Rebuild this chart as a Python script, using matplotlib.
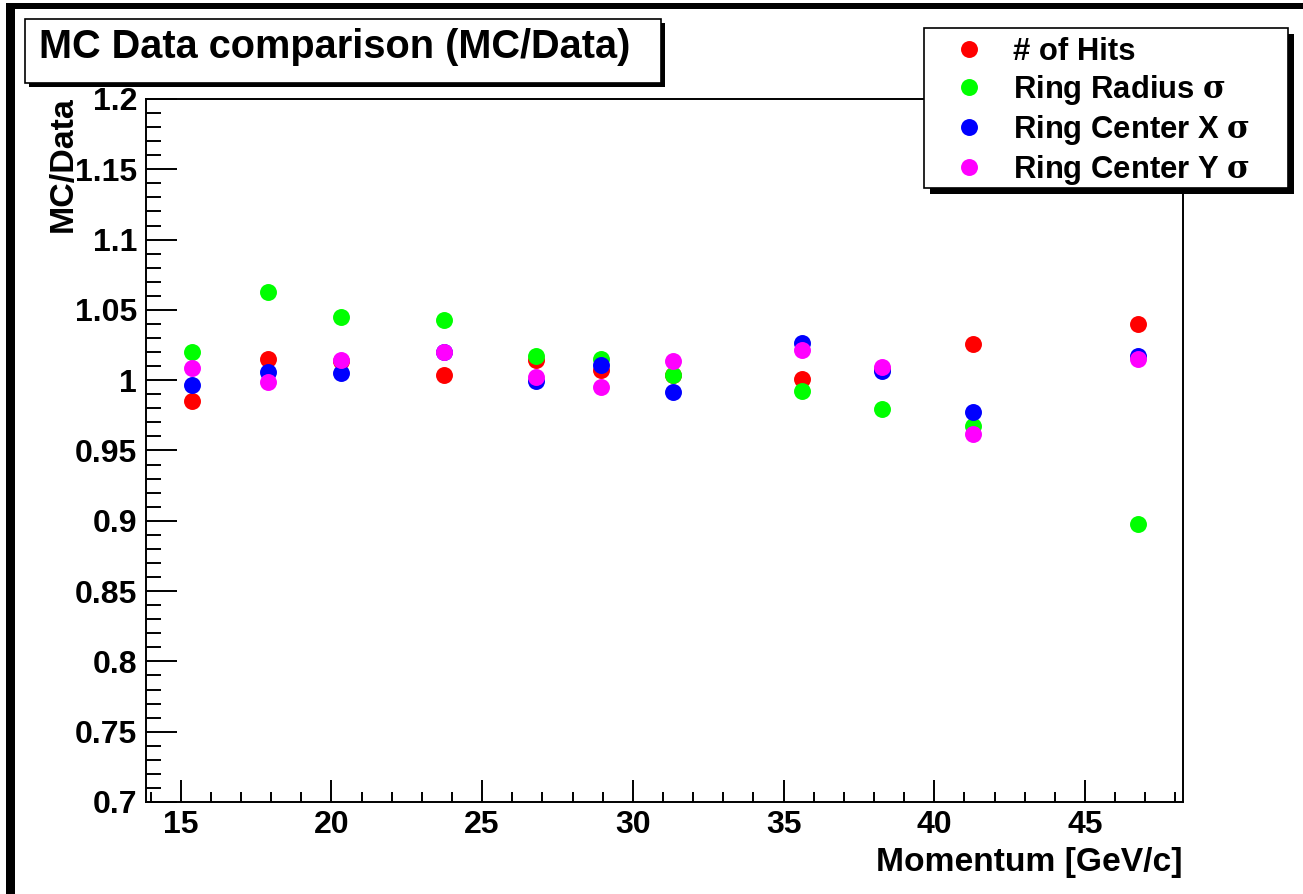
import matplotlib
matplotlib.use("Agg")
import matplotlib.pyplot as plt
from matplotlib.patches import Rectangle
from matplotlib.ticker import MultipleLocator, FormatStrFormatter

plt.rcParams['font.family'] = ['Liberation Sans', 'DejaVu Sans']
plt.rcParams['font.weight'] = 'bold'
plt.rcParams['mathtext.fontset'] = 'custom'
plt.rcParams['mathtext.rm'] = 'DejaVu Serif'
plt.rcParams['mathtext.it'] = 'DejaVu Serif'

# Beam momentum points [GeV/c]
momentum = [15.36, 17.91, 20.33, 23.74, 26.79, 28.94, 31.32, 35.60, 38.28, 41.29, 46.75]

# MC/Data ratios
n_hits = [0.985, 1.015, 1.014, 1.004, 1.0145, 1.007, 1.0035, 1.001, 1.008, 1.0255, 1.040]
ring_radius_sigma = [1.020, 1.063, 1.045, 1.043, 1.0174, 1.015, 1.0035, 0.9926, 0.9795, 0.9677, 0.8977]
ring_center_x_sigma = [0.9966, 1.006, 1.0049, 1.020, 0.9997, 1.0108, 0.9914, 1.0262, 1.0068, 0.9771, 1.0172]
ring_center_y_sigma = [1.0089, 0.999, 1.0144, 1.0203, 1.0025, 0.9954, 1.0139, 1.0215, 1.0092, 0.9617, 1.0149]

series_labels = ["# of Hits", r"Ring Radius $\sigma$", r"Ring Center X $\sigma$", r"Ring Center Y $\sigma$"]
series_colors = ["#ff0000", "#00ff00", "#0000ff", "#ff00ff"]

title_text = "MC Data comparison (MC/Data)"
x_label = "Momentum [GeV/c]"
y_label = "MC/Data"

W, H = 1303, 894
fig = plt.figure(figsize=(W / 100, H / 100), dpi=100)
fig.patch.set_facecolor("white")


def fx(px):
    return px / W


def fy(py):
    return 1 - py / H


ax = fig.add_axes([fx(146), fy(802), fx(1183) - fx(146), fy(99) - fy(802)])

for vals, lab, col in zip([n_hits, ring_radius_sigma, ring_center_x_sigma, ring_center_y_sigma],
                          series_labels, series_colors):
    ax.plot(momentum, vals, linestyle="none", marker="o", markersize=12.2,
            markerfacecolor=col, markeredgecolor=col, markeredgewidth=0, label=lab)

ax.set_xlim(13.85, 48.25)
ax.set_ylim(0.7, 1.2)

ax.xaxis.set_major_locator(MultipleLocator(5))
ax.xaxis.set_minor_locator(MultipleLocator(1))
ax.yaxis.set_major_locator(MultipleLocator(0.05))
ax.yaxis.set_minor_locator(MultipleLocator(0.01))
ax.xaxis.set_major_formatter(FormatStrFormatter("%g"))
ax.yaxis.set_major_formatter(FormatStrFormatter("%g"))

for sp in ax.spines.values():
    sp.set_linewidth(1.4)
    sp.set_color("black")

ax.tick_params(axis="x", which="major", direction="in", length=15.8, width=1.4,
               labelsize=23, pad=6, top=False)
ax.tick_params(axis="x", which="minor", direction="in", length=7.2, width=1.4, top=False)
ax.tick_params(axis="y", which="major", direction="in", length=22.3, width=1.4,
               labelsize=23, pad=6.5, right=False)
ax.tick_params(axis="y", which="minor", direction="in", length=10.8, width=1.4, right=False)

ax.set_xlabel(x_label, loc="right", fontsize=24.2, fontweight="bold")
ax.xaxis.set_label_coords(1.0, -0.064)
ax.set_ylabel(y_label, loc="top", fontsize=24.5, fontweight="bold")
ax.yaxis.set_label_coords(-0.0645, 1.004)

# Canvas border on left and top
fig.patches.append(Rectangle((fx(6), 0), fx(15) - fx(6), fy(3), transform=fig.transFigure,
                             facecolor="black", edgecolor="none", zorder=6))
fig.patches.append(Rectangle((fx(6), fy(9)), 1 - fx(6), fy(3) - fy(9), transform=fig.transFigure,
                             facecolor="black", edgecolor="none", zorder=6))

# Title box with drop shadow
tb = (25, 19, 661, 83)
fig.patches.append(Rectangle((fx(tb[0] + 4), fy(tb[3] + 4)), fx(tb[2] - tb[0]), fy(tb[1]) - fy(tb[3]),
                             transform=fig.transFigure, facecolor="black", edgecolor="none", zorder=4))
fig.patches.append(Rectangle((fx(tb[0]), fy(tb[3])), fx(tb[2] - tb[0]), fy(tb[1]) - fy(tb[3]),
                             transform=fig.transFigure, facecolor="white", edgecolor="black",
                             linewidth=1.2, zorder=4.5))
fig.text(fx(335), fy(47), title_text, ha="center", va="center",
         fontsize=28.6, fontweight="bold", zorder=5)

# Legend box with drop shadow
lb = (924, 28, 1288, 188)
fig.patches.append(Rectangle((fx(lb[0] + 6), fy(lb[3] + 6)), fx(lb[2] - lb[0]), fy(lb[1]) - fy(lb[3]),
                             transform=fig.transFigure, facecolor="black", edgecolor="none", zorder=4))
fig.patches.append(Rectangle((fx(lb[0]), fy(lb[3])), fx(lb[2] - lb[0]), fy(lb[1]) - fy(lb[3]),
                             transform=fig.transFigure, facecolor="white", edgecolor="black",
                             linewidth=1.2, zorder=4.5))
handles, labels = ax.get_legend_handles_labels()
leg = fig.legend(handles, labels, loc="upper left", bbox_to_anchor=(fx(954.0), fy(37)),
                 bbox_transform=fig.transFigure, frameon=False, fontsize=22.3,
                 handlelength=1.0, handletextpad=0.9, labelspacing=0.19,
                 borderpad=0, borderaxespad=0, numpoints=1)
leg.set_zorder(5)

fig.savefig("out.png", dpi=100)
